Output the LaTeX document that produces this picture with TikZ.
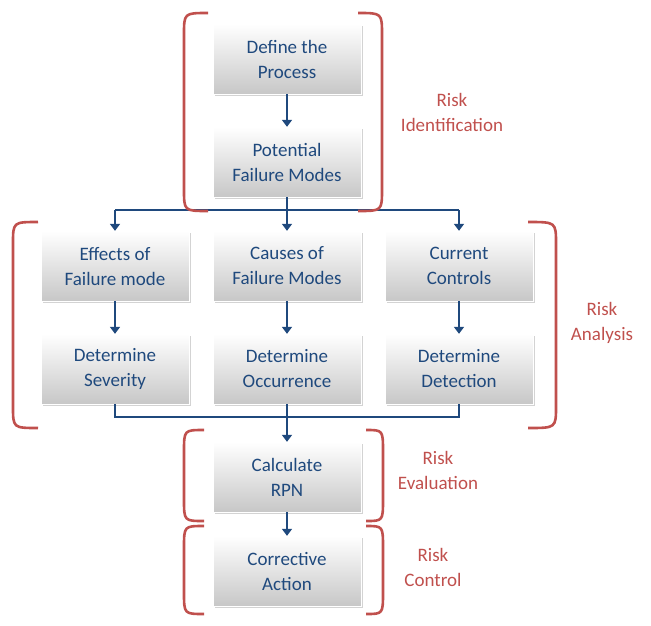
\documentclass[tikz,border=0pt]{standalone}
\usepackage{fontspec}
\setmainfont{Carlito}
\usetikzlibrary{shadows,arrows.meta}
\definecolor{tblue}{HTML}{1F497D}
\definecolor{tred}{HTML}{C0504D}
\tikzset{
 boxn/.style={minimum width=148pt,minimum height=70pt,align=center,text=tblue,font=\fontsize{19}{25}\selectfont,
  top color=white,bottom color=black!22,draw=white,drop shadow={opacity=0.35,shadow xshift=2pt,shadow yshift=-2pt}},
 conn/.style={draw=tblue,line width=2.6pt},
 arr/.style={conn,-{Triangle[length=7pt,width=10pt]}},
 brk/.style={draw=tred,line width=2.6pt},
 lab/.style={text=tred,align=center,font=\fontsize{19}{25}\selectfont}
}
\begin{document}
\begin{tikzpicture}[x=1pt,y=-1pt]
\useasboundingbox (0,0) rectangle (651,625);
\node[boxn] (def) at (287,59) {Define the\\Process};
\node[boxn] (pot) at (287,162) {Potential\\Failure Modes};
\node[boxn] (eff) at (115,266) {Effects of\\Failure mode};
\node[boxn] (cau) at (287,266) {Causes of\\Failure Modes};
\node[boxn] (cur) at (459,266) {Current\\Controls};
\node[boxn] (sev) at (115,369) {Determine\\Severity};
\node[boxn] (occ) at (287,369) {Determine\\Occurrence};
\node[boxn] (det) at (459,369) {Determine\\Detection};
\node[boxn] (rpn) at (287,477) {Calculate\\RPN};
\node[boxn] (act) at (287,571) {Corrective\\Action};
\coordinate (s1) at (287,210);
\coordinate (s1l) at (115,210);
\coordinate (s1r) at (459,210);
\coordinate (s2) at (287,417);
\coordinate (s2l) at (115,417);
\coordinate (s2r) at (459,417);
\draw[arr] (def) -- (pot);
\draw[conn] (pot) -- (s1);
\draw[conn] (s1l) -- (s1r);
\draw[arr] (s1l) -- (eff);
\draw[arr] (s1) -- (cau);
\draw[arr] (s1r) -- (cur);
\draw[arr] (eff) -- (sev);
\draw[arr] (cau) -- (occ);
\draw[arr] (cur) -- (det);
\draw[conn] (sev.south) -- (s2l) -- (s2r) -- (det.south);
\draw[conn] (occ) -- (s2);
\draw[arr] (s2) -- (rpn);
\draw[arr] (rpn) -- (act);
% brackets
\newcommand\lbrk[4]{\draw[brk] (#2,#3) .. controls (#1,#3) and (#1,#3) .. (#1,#3+22) -- (#1,#4-22) .. controls (#1,#4) and (#1,#4) .. (#2,#4);}
\newcommand\rbrk[4]{\draw[brk] (#2,#3) .. controls (#1,#3) and (#1,#3) .. (#1,#3+22) -- (#1,#4-22) .. controls (#1,#4) and (#1,#4) .. (#2,#4);}
\lbrk{184}{208}{13}{211}
\rbrk{382}{358}{13}{211}
\lbrk{13}{38}{222}{428}
\rbrk{556}{528}{222}{428}
\lbrk{184}{204}{430}{521}
\rbrk{383}{366}{430}{521}
\lbrk{184}{204}{526}{614}
\rbrk{383}{366}{526}{614}
\node[lab] (li) at (452,112) {Risk\\Identification};
\node[lab] (la) at (602,323) {Risk\\Analysis};
\node[lab] (le) at (438,470) {Risk\\Evaluation};
\node[lab] (lc) at (433,567) {Risk\\Control};
\end{tikzpicture}
\end{document}
